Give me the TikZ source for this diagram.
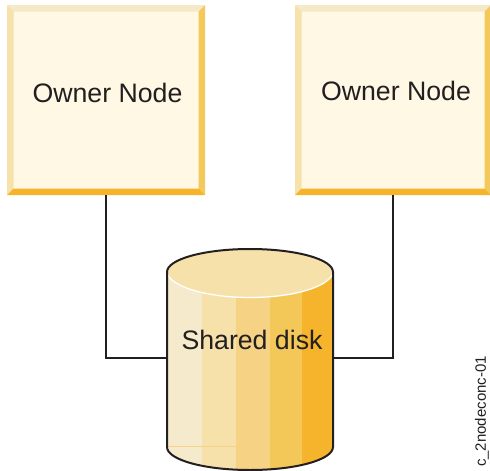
\documentclass[tikz,border=0pt]{standalone}
\usepackage{fontspec}
\setmainfont{Liberation Sans}
\definecolor{boxfill}{HTML}{FEF8E5}
\definecolor{bevT}{HTML}{F5E9C8}
\definecolor{bevL}{HTML}{F8E2AB}
\definecolor{bevR}{HTML}{F4C95C}
\definecolor{bevB}{HTML}{F6B42B}
\definecolor{bandA}{HTML}{F5EACB}
\definecolor{bandB}{HTML}{F7E1AB}
\definecolor{bandC}{HTML}{F5D284}
\definecolor{bandD}{HTML}{F3C858}
\definecolor{bandE}{HTML}{F5B42B}
\definecolor{ink}{HTML}{231F20}
\tikzset{
  ownerbox/.style={minimum height=190pt,inner sep=0pt,outer sep=0pt,fill=boxfill},
  label/.style={text=ink,font=\fontsize{26.7}{30}\selectfont,inner sep=0pt},
  wire/.style={draw=ink,line width=1.5pt},
  diskanchor/.style={minimum width=166pt,minimum height=180pt,inner sep=0pt,outer sep=0pt},
}
\newcommand{\bevelbox}[1]{%
  \fill[bevT] (#1.north west) -- (#1.north east) -- ([shift={(-6.5pt,-6.5pt)}]#1.north east) -- ([shift={(6.5pt,-6.5pt)}]#1.north west) -- cycle;
  \fill[bevL] (#1.north west) -- ([shift={(6.5pt,-6.5pt)}]#1.north west) -- ([shift={(6.5pt,6.5pt)}]#1.south west) -- (#1.south west) -- cycle;
  \fill[bevR] (#1.north east) -- ([shift={(-6.5pt,-6.5pt)}]#1.north east) -- ([shift={(-6.5pt,6.5pt)}]#1.south east) -- (#1.south east) -- cycle;
  \fill[bevB] (#1.south west) -- ([shift={(6.5pt,6.5pt)}]#1.south west) -- ([shift={(-6.5pt,6.5pt)}]#1.south east) -- (#1.south east) -- cycle;
}
\begin{document}
\begin{tikzpicture}[x=1pt,y=-1pt]
\useasboundingbox (0,0) rectangle (490,471);
\clip (0,0) rectangle (490,471);
\node[ownerbox,minimum width=198pt] (ownerA) at (106,100) {};
\node[ownerbox,minimum width=196pt] (ownerB) at (393,100) {};
\bevelbox{ownerA}
\bevelbox{ownerB}
\node[label] (labelA) at (107.5,93) {Owner Node};
\node[label] (labelB) at (396,91) {Owner Node};
\node[diskanchor] (disk) at (250,358) {};
\draw[wire] (ownerA.south) |- (disk.west);
\draw[wire] (ownerB.south) |- (disk.east);
% disk body
\begin{scope}
\clip (167,272) -- (167,447) .. controls (167,459.7) and (204,470) .. (250,470) .. controls (296,470) and (333,459.7) .. (333,447) -- (333,272) -- cycle;
\fill[bandA] (167,260) rectangle (202,471);
\fill[bandB] (202,260) rectangle (236,471);
\fill[bandC] (236,260) rectangle (270,471);
\fill[bandD] (270,260) rectangle (302,471);
\fill[bandE] (302,260) rectangle (333,471);
\draw[bandC,line width=0.6pt] (167,446.5) -- (236,446.5);
\end{scope}
\fill[bandB] (167,272) .. controls (167,259.3) and (204,249) .. (250,249) .. controls (296,249) and (333,259.3) .. (333,272) .. controls (333,286) and (296,297.5) .. (250,297.5) .. controls (204,297.5) and (167,286) .. (167,272) -- cycle;
\draw[white,line width=1.3pt] (168,275) .. controls (174,287.5) and (208,297.5) .. (250,297.5) .. controls (292,297.5) and (326,287.5) .. (332,275);
\draw[ink,line width=2pt,line join=round] (167,447) -- (167,272) .. controls (167,259.3) and (204,249) .. (250,249) .. controls (296,249) and (333,259.3) .. (333,272) -- (333,447) .. controls (333,459.7) and (296,470) .. (250,470) .. controls (204,470) and (167,459.7) .. (167,447) -- cycle;
\node[label] (labelD) at (252,340) {Shared disk};
\node[text=ink,font=\fontsize{15}{18}\selectfont,inner sep=0pt,rotate=90] (tag) at (482,411.5) {c\_2nodeconc-01};
\end{tikzpicture}
\end{document}
